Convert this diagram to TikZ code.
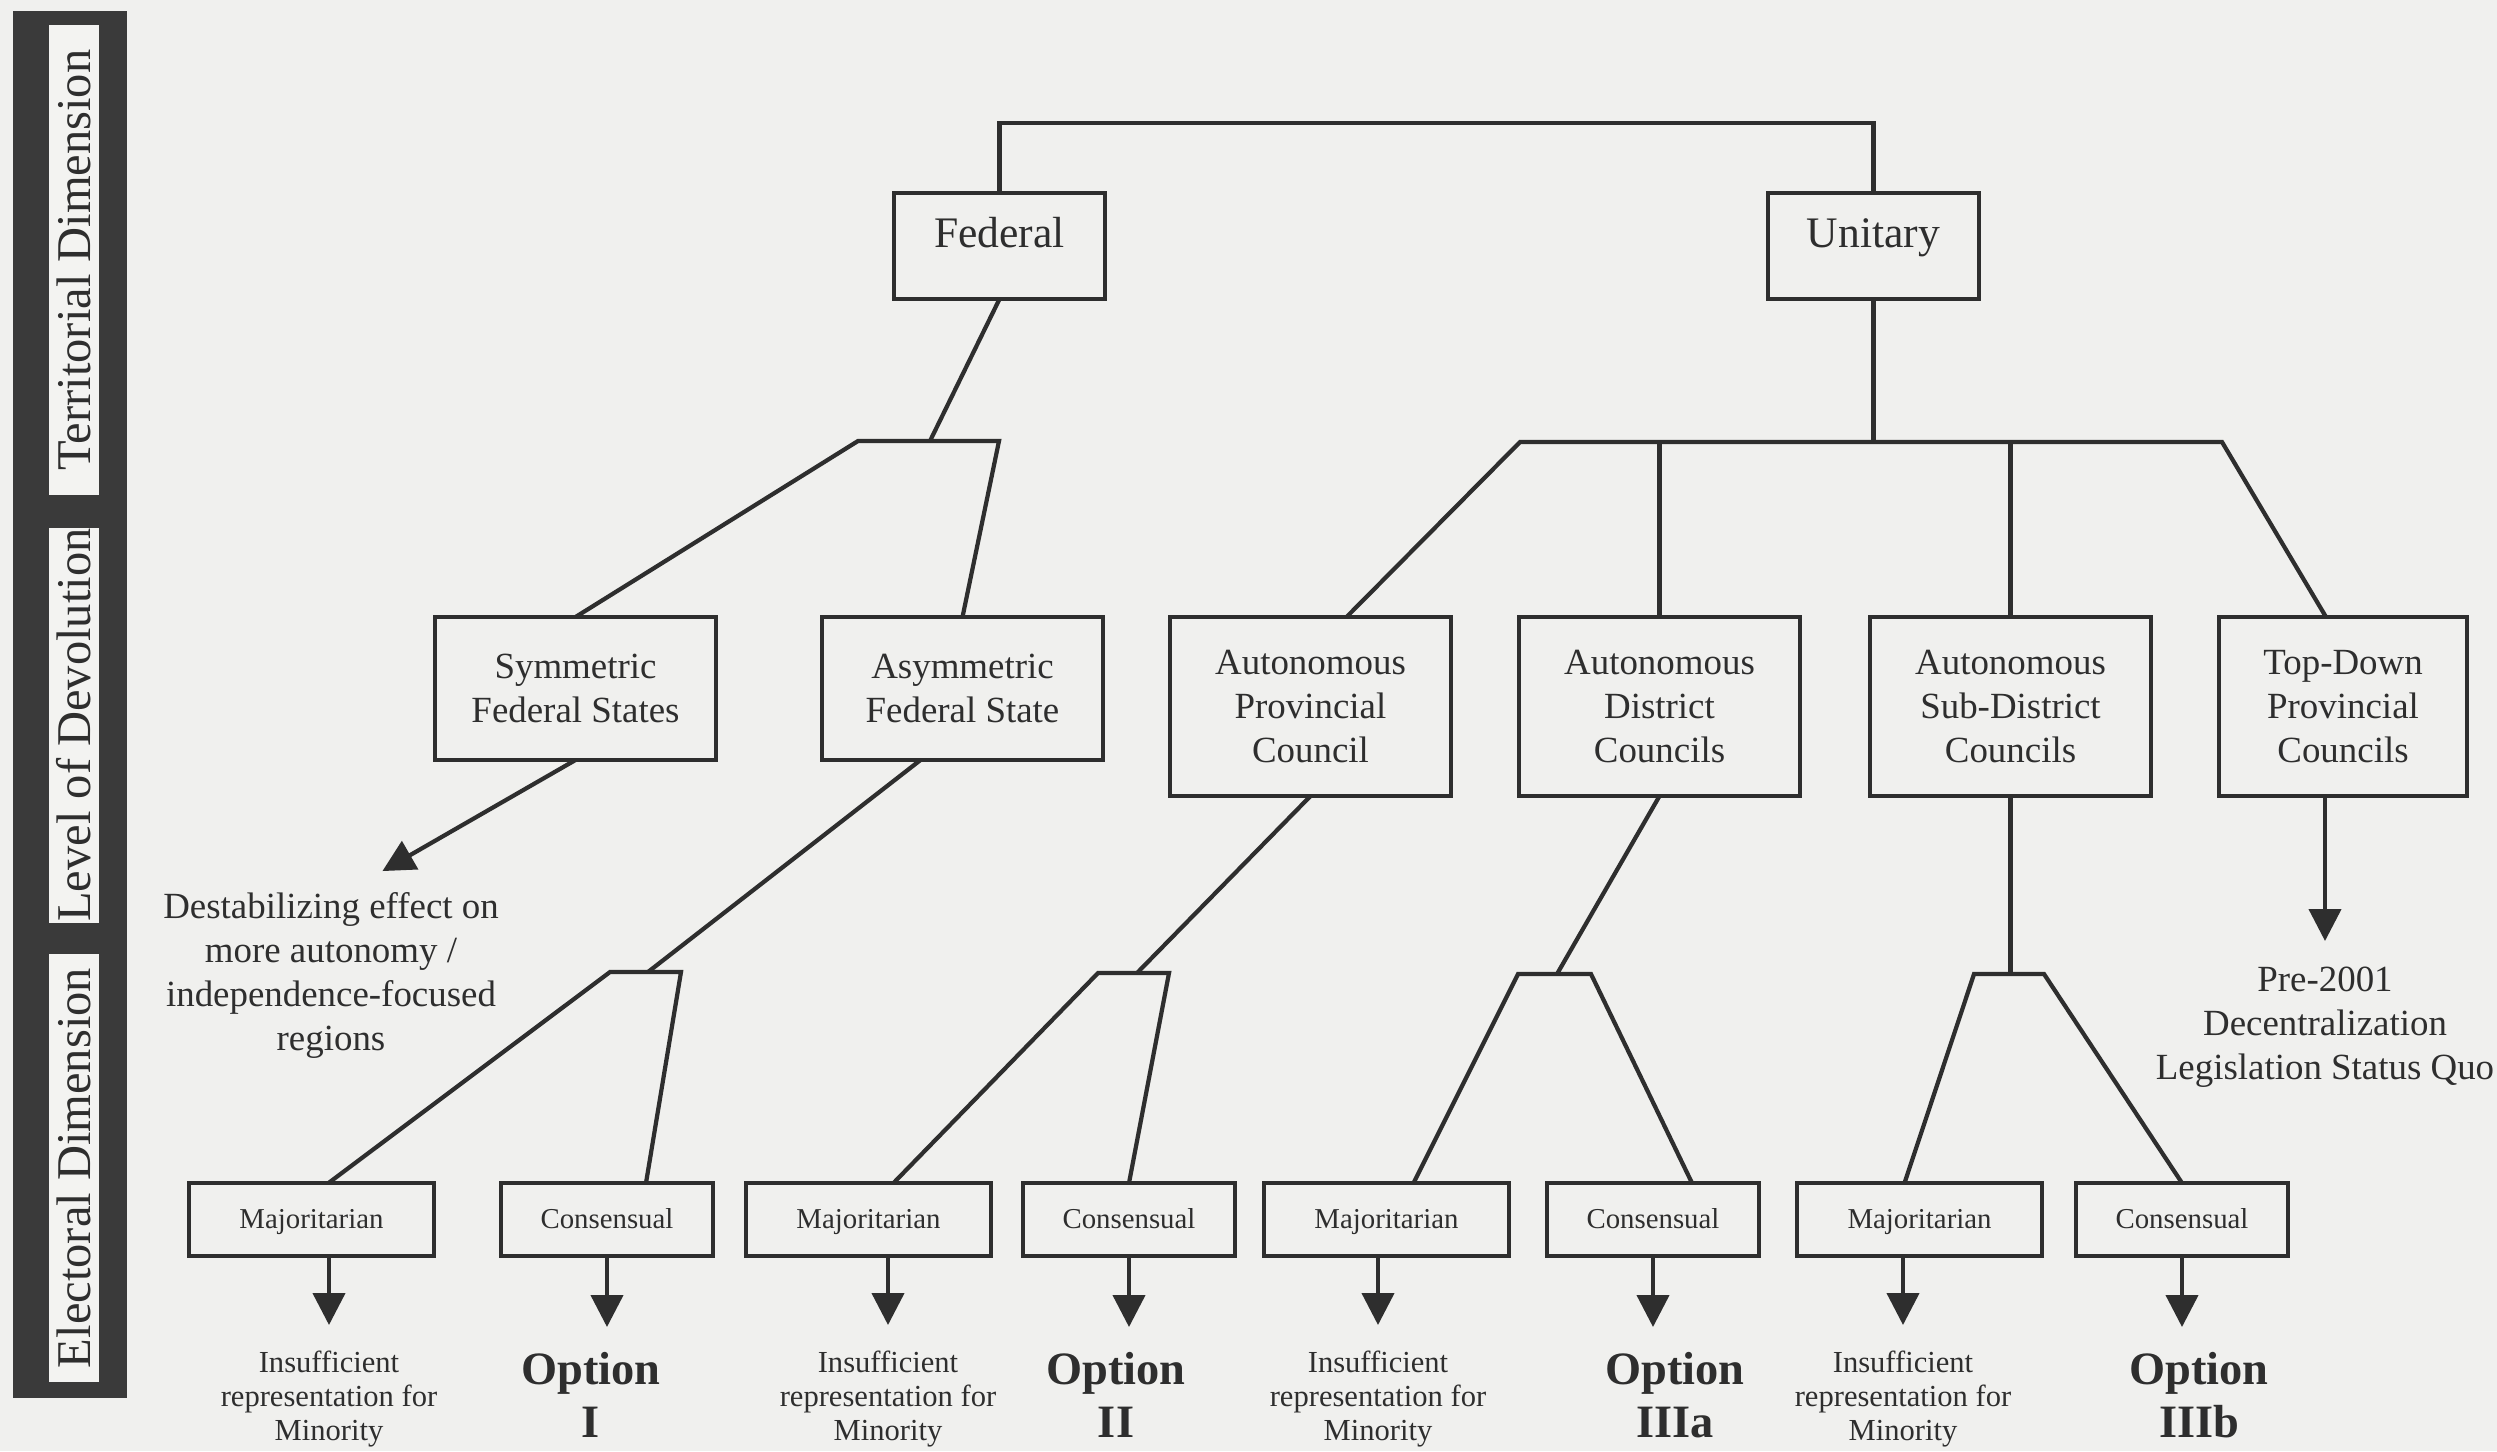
\documentclass[tikz,border=0pt]{standalone}
\usepackage{fontspec}
\setmainfont{Liberation Serif}
\usetikzlibrary{
	positioning,
	arrows.meta
}
\definecolor{papercolor}{HTML}{F0F0EE}
\definecolor{inkcolor}{HTML}{2E2E2E}
\definecolor{barcolor}{HTML}{3A3A3A}
\definecolor{tagcolor}{HTML}{F3F3F1}
\tikzset{
	topnode/.style={
		draw=inkcolor,
		line width=1.3pt,
		minimum width=2.11cm,
		minimum height=1.06cm,
		text height=0.3cm,
		text depth=0.28cm,
		inner sep=0pt,
		outer sep=0pt,
		text=inkcolor,
		font=\fontsize{12.4}{14}\selectfont
	},
	levelnode/.style={
		draw=inkcolor,
		line width=1.3pt,
		minimum width=2.81cm,
		inner sep=0pt,
		outer sep=0pt,
		align=center,
		text=inkcolor,
		font=\fontsize{10.5}{12.5}\selectfont
	},
	votenode/.style={
		draw=inkcolor,
		line width=1.3pt,
		minimum height=0.73cm,
		text height=1.6ex,
		text depth=0.5ex,
		inner sep=0pt,
		outer sep=0pt,
		text=inkcolor,
		font=\fontsize{8.2}{10}\selectfont
	},
	majnode/.style={votenode, minimum width=2.45cm},
	connode/.style={votenode, minimum width=2.12cm},
	resultnode/.style={
		inner sep=0pt,
		align=center,
		text=inkcolor,
		font=\fontsize{8.7}{9.7}\selectfont
	},
	optionnode/.style={
		inner sep=0pt,
		align=center,
		text=inkcolor,
		font=\fontsize{13.2}{15}\selectfont\bfseries
	},
	notenode/.style={
		inner sep=0pt,
		align=center,
		text=inkcolor,
		font=\fontsize{10.5}{12.5}\selectfont
	},
	dimtag/.style={
		fill=tagcolor,
		rotate=90,
		minimum height=0.5cm,
		inner sep=0pt,
		text=inkcolor,
		font=\fontsize{13.8}{14}\selectfont
	},
	link/.style={
		draw=inkcolor,
		line width=1.2pt
	},
	arrow/.style={
		link,
		-{Triangle[width=0.32cm,length=0.32cm]},
		shorten >=0.25cm
	}
}

\begin{document}
\begin{tikzpicture}
	
	% Paper
	\fill[papercolor] (0,0) rectangle (24.97,-14.51);
	\useasboundingbox (0,0) rectangle (24.97,-14.51);
	
	% Dimension bar
	\fill[barcolor] (0.13,-0.11) rectangle (1.27,-13.98);
	\node[dimtag, minimum width=4.70cm] (terrtag) at (0.735,-2.60) {Territorial Dimension};
	\node[dimtag, minimum width=3.95cm] (devotag) at (0.735,-7.25) {Level of Devolution};
	\node[dimtag, minimum width=4.28cm] (electag) at (0.735,-11.68) {Electoral Dimension};
	
	% Row 1
	\node[topnode] (federal) at (9.995,-2.46) {Federal};
	\node[topnode, right=6.63cm of federal] (unitary) {Unitary};
	
	% Row 2
	\node[levelnode, minimum height=1.43cm, anchor=north west] (sym) at (4.35,-6.17)
	{Symmetric\\Federal States};
	
	\node[levelnode, minimum height=1.43cm, right=1.06cm of sym.north east, anchor=north west] (asym)
	{Asymmetric\\Federal State};
	
	\node[levelnode, minimum height=1.79cm, right=0.67cm of asym.north east, anchor=north west] (prov)
	{Autonomous\\Provincial\\Council};
	
	\node[levelnode, minimum height=1.79cm, right=0.68cm of prov.north east, anchor=north west] (dist)
	{Autonomous\\District\\Councils};
	
	\node[levelnode, minimum height=1.79cm, right=0.70cm of dist.north east, anchor=north west] (subdist)
	{Autonomous\\Sub-District\\Councils};
	
	\node[levelnode, minimum height=1.79cm, minimum width=2.48cm, right=0.68cm of subdist.north east, anchor=north west] (topdown)
	{Top-Down\\Provincial\\Councils};
	
	% Row 3
	\node[majnode, anchor=north west] (maja) at (1.89,-11.83) {Majoritarian};
	\node[connode, right=0.67cm of maja] (cona) {Consensual};
	\node[majnode, right=0.33cm of cona] (majb) {Majoritarian};
	\node[connode, right=0.32cm of majb] (conb) {Consensual};
	\node[majnode, right=0.29cm of conb] (majc) {Majoritarian};
	\node[connode, right=0.38cm of majc] (conc) {Consensual};
	\node[majnode, right=0.38cm of conc] (majd) {Majoritarian};
	\node[connode, right=0.34cm of majd] (cond) {Consensual};
	
	% Outcomes
	\node[notenode, anchor=north] (destab) at (3.31,-8.92)
	{Destabilizing effect on\\more autonomy /\\independence-focused\\regions};
	
	\node[notenode, anchor=north] (prequo) at (23.25,-9.66)
	{Pre-2001\\Decentralization\\Legislation Status Quo};
	
	\node[resultnode, anchor=north] (insa) at (3.29,-13.50) {Insufficient\\representation for\\Minority};
	\node[resultnode, anchor=north] (insb) at (8.88,-13.50) {Insufficient\\representation for\\Minority};
	\node[resultnode, anchor=north] (insc) at (13.78,-13.50) {Insufficient\\representation for\\Minority};
	\node[resultnode, anchor=north] (insd) at (19.03,-13.50) {Insufficient\\representation for\\Minority};
	
	\node[optionnode, anchor=north] (opta) at (5.91,-13.52) {Option\\I};
	\node[optionnode, anchor=north] (optb) at (11.16,-13.52) {Option\\II};
	\node[optionnode, anchor=north] (optc) at (16.75,-13.52) {Option\\IIIa};
	\node[optionnode, anchor=north] (optd) at (21.99,-13.52) {Option\\IIIb};
	
	% Joints
	\coordinate (roof) at (14.37,-1.23);
	\coordinate (fedjoin) at (9.30,-4.41);
	\coordinate (fedleft) at (8.58,-4.41);
	\coordinate (fedright) at (9.99,-4.41);
	\coordinate (unileft) at (15.20,-4.42);
	\coordinate (uniright) at (22.22,-4.42);
	\coordinate (asymjoin) at (6.48,-9.72);
	\coordinate (asymleft) at (6.10,-9.72);
	\coordinate (asymright) at (6.81,-9.72);
	\coordinate (provjoin) at (11.37,-9.73);
	\coordinate (provleft) at (10.98,-9.73);
	\coordinate (provright) at (11.69,-9.73);
	\coordinate (distjoin) at (15.57,-9.74);
	\coordinate (distleft) at (15.18,-9.74);
	\coordinate (distright) at (15.91,-9.74);
	\coordinate (subleft) at (19.74,-9.74);
	\coordinate (subright) at (20.44,-9.74);
	
	% Territorial links
	\draw[link] (federal.north) |- (roof) -| (unitary.north);
	\draw[link] (federal.south) -- (fedjoin);
	\draw[link] (sym.north) -- (fedleft) -- (fedright) -- (asym.north);
	
	\draw[link] (unitary.south) -- (unitary.south |- unileft);
	\draw[link] ([xshift=0.36cm]prov.north) -- (unileft) -- (uniright) -- ([xshift=-0.17cm]topdown.north);
	\draw[link] (dist.north) -- (dist.north |- unileft);
	\draw[link] (subdist.north) -- (subdist.north |- unileft);
	
	% Electoral links
	\draw[link] ([xshift=-0.42cm]asym.south) -- (asymjoin);
	\draw[link] ([xshift=0.17cm]maja.north) -- (asymleft) -- (asymright) -- ([xshift=0.39cm]cona.north);
	
	\draw[link] (prov.south) -- (provjoin);
	\draw[link] ([xshift=0.25cm]majb.north) -- (provleft) -- (provright) -- (conb.north);
	
	\draw[link] (dist.south) -- (distjoin);
	\draw[link] ([xshift=0.27cm]majc.north) -- (distleft) -- (distright) -- ([xshift=0.39cm]conc.north);
	
	\draw[link] (subdist.south) -- (subdist.south |- subleft);
	\draw[link] ([xshift=-0.15cm]majd.north) -- (subleft) -- (subright) -- (cond.north);
	
	% Arrows
	\draw[arrow, shorten >=0.42cm] (sym.south) -- ([xshift=0.15cm]destab.north);
	\draw[arrow] (prequo.north |- topdown.south) -- (prequo.north);
	
	\draw[arrow] (insa.north |- maja.south) -- (insa.north);
	\draw[arrow] (insb.north |- majb.south) -- (insb.north);
	\draw[arrow] (insc.north |- majc.south) -- (insc.north);
	\draw[arrow] (insd.north |- majd.south) -- (insd.north);
	
	\draw[arrow] (cona.south) -- (cona.south |- opta.north);
	\draw[arrow] (conb.south) -- (conb.south |- optb.north);
	\draw[arrow] (conc.south) -- (conc.south |- optc.north);
	\draw[arrow] (cond.south) -- (cond.south |- optd.north);
	
\end{tikzpicture}
\end{document}
